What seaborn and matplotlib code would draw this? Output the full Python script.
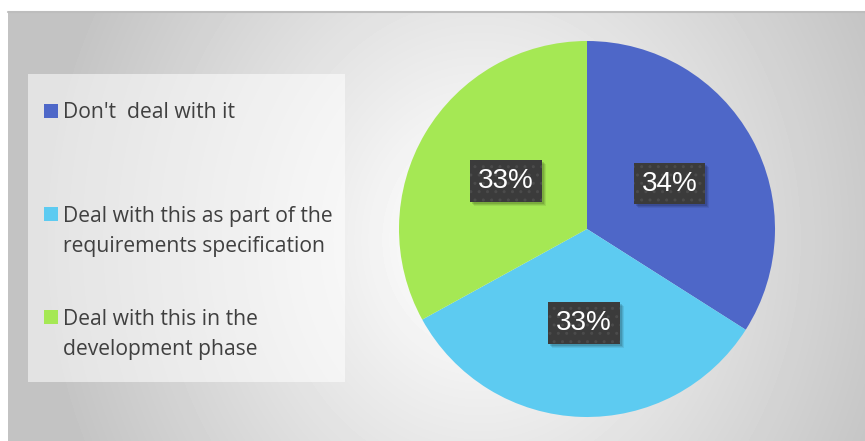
import numpy as np
import matplotlib
matplotlib.use("Agg")
import matplotlib.pyplot as plt
from matplotlib.patches import Rectangle
import seaborn as sns

# ---- data ----
categories = ["Don't  deal with it",
              "Deal with this as part of the\nrequirements specification",
              "Deal with this in the\ndevelopment phase"]
values = [34, 33, 33]
colors = ["#4E67C8", "#5DCBF1", "#A5E854"]

sns.set_theme(style="white")
plt.rcParams['font.family'] = ['Open Sans', 'DejaVu Sans']

W, H = 865, 441
fig = plt.figure(figsize=(W / 100, H / 100), dpi=100)
fig.patch.set_facecolor('white')

# ---- background ----
bg = fig.add_axes([0, 0, 1, 1])
xs = np.arange(8, W) + 0.5
ys = np.arange(11, H) + 0.5
X, Y = np.meshgrid(xs, ys)
d = np.sqrt(((X - 480) / 420) ** 2 + ((Y - 240) / 480) ** 2)
v = np.clip(258 - 60 * d, 195, 255) / 255
bg.imshow(v, cmap='gray', vmin=0, vmax=1, extent=(8, W, H, 11),
          aspect='auto', interpolation='bilinear')
bg.plot([8, W], [11.5, 11.5], color='#BDBDBD', lw=1.5)
bg.set_xlim(0, W)
bg.set_ylim(H, 0)
bg.axis('off')

# ---- legend box ----
bg.add_patch(Rectangle((28, 74), 317, 308, facecolor='white', alpha=0.55,
                       edgecolor='none'))
sq_tops = [104, 207, 310]
baselines = [118, 222, 325]
for lab, col, st, bl in zip(categories, colors, sq_tops, baselines):
    bg.add_patch(Rectangle((44, st), 14, 14, facecolor=col, edgecolor='none'))
    for i, line in enumerate(lab.split("\n")):
        bg.text(63, bl + i * 30, line, fontsize=15.2, color='#404040',
                va='baseline', ha='left')

# ---- pie ----
cx, cy, r = 587, 229, 188
pax = fig.add_axes([(cx - r) / W, (H - cy - r) / H, 2 * r / W, 2 * r / H])
wedges, texts, autotexts = pax.pie(
    values, colors=colors, startangle=90, counterclock=False,
    autopct='%1.0f%%', pctdistance=0.5, radius=1,
    wedgeprops=dict(linewidth=0),
    textprops=dict(color='white', fontsize=20, zorder=5,
                   family=['Liberation Sans', 'DejaVu Sans']))
pax.set_xlim(-1, 1)
pax.set_ylim(-1, 1)
pax.set_aspect('auto')
pax.axis('off')

for at in autotexts:
    at.set_bbox(dict(boxstyle='square,pad=0.28', facecolor='#3B3B3B',
                     edgecolor='#4B4B4B', hatch='..', linewidth=0))

# soft shadows behind label boxes
fig.canvas.draw()
renderer = fig.canvas.get_renderer()
inv = pax.transData.inverted()
for at in autotexts:
    ext = at.get_bbox_patch().get_window_extent(renderer)
    for off, a in [(4.0, 0.07), (3.0, 0.09), (2.0, 0.12)]:
        (x0, y0), (x1, y1) = inv.transform([(ext.x0 + off, ext.y0 - off),
                                            (ext.x1 + off, ext.y1 - off)])
        pax.add_patch(Rectangle((x0, y0), x1 - x0, y1 - y0, facecolor='black',
                                alpha=a, edgecolor='none', zorder=4))

fig.savefig('out.png', dpi=100)
